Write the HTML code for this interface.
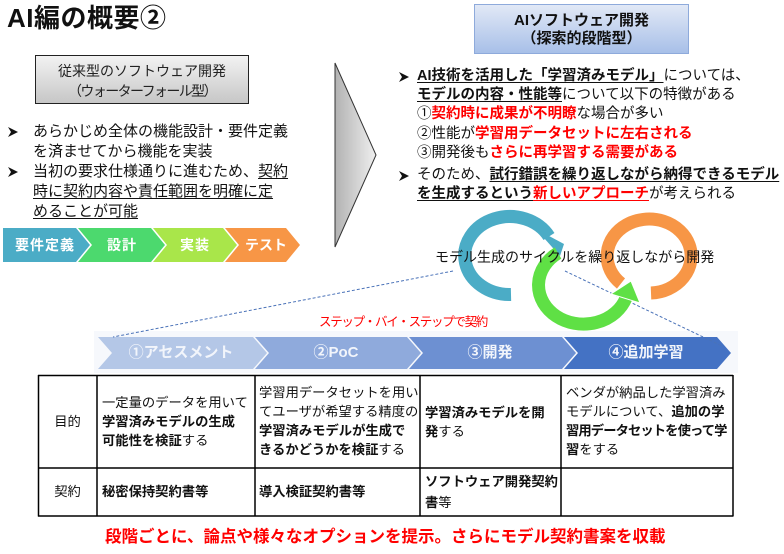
<!DOCTYPE html>
<html><head><meta charset="utf-8">
<style>
html,body{margin:0;padding:0;background:#fff;}
body{width:784px;height:554px;position:relative;overflow:hidden;font-family:"Liberation Sans","Noto Sans CJK JP",sans-serif;color:#111;}
.a{position:absolute;white-space:nowrap;}
.b{font-weight:bold;}
.u{text-decoration:underline;text-underline-offset:2px;text-decoration-thickness:1px;}
.r{color:#ff0000;}
.lt{font-size:15px;line-height:20px;}
.rt{font-size:14.5px;line-height:19.5px;}
.tt{font-size:13.3px;line-height:19px;}
</style></head><body>

<svg class="a" style="left:0;top:0" width="784" height="554" viewBox="0 0 784 554">
<defs>
<linearGradient id="gbox" x1="0" y1="0" x2="0" y2="1"><stop offset="0" stop-color="#f3f3f3"/><stop offset="1" stop-color="#c6c6c6"/></linearGradient>
<linearGradient id="bbox" x1="0" y1="0" x2="0" y2="1"><stop offset="0" stop-color="#e2e9f6"/><stop offset="1" stop-color="#a7bfe8"/></linearGradient>
<linearGradient id="garr" x1="0" y1="0" x2="1" y2="0"><stop offset="0" stop-color="#b2b2b2"/><stop offset="1" stop-color="#efefef"/></linearGradient>
</defs>
<!-- left box -->
<rect x="35.5" y="55.5" width="213" height="48" fill="url(#gbox)" stroke="#222" stroke-width="1"/>
<!-- right box -->
<rect x="474.5" y="4.5" width="214" height="49" fill="url(#bbox)" stroke="#8eaadb" stroke-width="1"/>
<!-- big gray arrow -->
<polygon points="335,63 376,155 335,247" fill="url(#garr)" stroke="#333" stroke-width="1"/>
<!-- waterfall chevrons -->
<polygon points="3,228 76,228 90,245 76,262 3,262" fill="#4bacc6"/>
<polygon points="78,228 151,228 165,245 151,262 78,262 92,245" fill="#4cd96e"/>
<polygon points="153,228 223,228 237,245 223,262 153,262 167,245" fill="#a9e64a"/>
<polygon points="225,228 286,228 300,245 286,262 225,262 239,245" fill="#f79646"/>
<!-- band background -->
<rect x="94" y="331" width="644" height="42" fill="#f6f8fc"/>
<!-- phase chevrons -->
<polygon points="98,337 253,337 267,353 253,369 98,369 112,353" fill="#b4c7e7"/>
<polygon points="255,337 407,337 421,353 407,369 255,369 269,353" fill="#8faadc"/>
<polygon points="409,337 562,337 576,353 562,369 409,369 423,353" fill="#6d90d2"/>
<polygon points="564,337 717,337 731,353 717,369 564,369 578,353" fill="#4472c4"/>
<!-- dashed lines -->
<line x1="453" y1="271" x2="113" y2="337" stroke="#4a72b8" stroke-width="1" stroke-dasharray="3,2"/>
<line x1="565" y1="271" x2="722" y2="346" stroke="#4a72b8" stroke-width="1" stroke-dasharray="3,2"/>
<!-- orange ring -->
<path d="M 651 293 A 42 37 0 1 0 621 283.5" fill="none" stroke="#f79646" stroke-width="13"/>
<!-- blue ring -->
<path d="M 511 294.5 A 45 39 0 1 1 549 236.5" fill="none" stroke="#4bacc6" stroke-width="13"/>
<polygon points="536,229 564,244 560,256" fill="#4bacc6"/>
<!-- green ring -->
<path d="M 558 253 A 45 39 0 1 0 626 298" fill="none" stroke="#5fe045" stroke-width="13"/>
<polygon points="611,294 640,303 631,281" fill="#5fe045" stroke="#fff" stroke-width="1"/>
<!-- table -->
<g stroke="#000" stroke-width="1.5">
<line x1="38" y1="375.5" x2="733" y2="375.5"/>
<line x1="38" y1="468" x2="733" y2="468"/>
<line x1="38" y1="516" x2="733" y2="516"/>
<line x1="38.5" y1="375" x2="38.5" y2="516.5"/>
<line x1="97" y1="375" x2="97" y2="516.5"/>
<line x1="255" y1="375" x2="255" y2="516.5"/>
<line x1="420" y1="375" x2="420" y2="516.5"/>
<line x1="561" y1="375" x2="561" y2="516.5"/>
<line x1="733" y1="375" x2="733" y2="516.5"/>
</g>
<!-- bullets -->
<g fill="#111">
<polygon points="8,127 18,132 8,137 11,132"/>
<polygon points="8,167 18,172 8,177 11,172"/>
<polygon points="399,72 409,77 399,82 402,77"/>
<polygon points="399,171 409,176 399,181 402,176"/>
</g>
</svg>

<!-- title -->
<div class="a b" style="left:7px;top:3px;font-size:26px;line-height:30px;letter-spacing:0.5px;">AI編の概要②</div>

<!-- left box text -->
<div class="a" style="left:35px;top:61px;width:214px;text-align:center;font-size:14px;line-height:20px;color:#222;">従来型のソフトウェア開発</div>
<div class="a" style="left:35px;top:81px;width:214px;text-align:center;font-size:14px;line-height:20px;color:#222;letter-spacing:-1.6px;">（ウォーターフォール型）</div>

<!-- left bullets -->
<div class="a lt" style="left:33px;top:122px;">あらかじめ全体の機能設計・要件定義</div>
<div class="a lt" style="left:33px;top:142px;">を済ませてから機能を実装</div>
<div class="a lt" style="left:33px;top:162px;">当初の要求仕様通りに進むため、<span class="u">契約</span></div>
<div class="a lt u" style="left:33px;top:182px;">時に契約内容や責任範囲を明確に定</div>
<div class="a lt u" style="left:33px;top:202px;">めることが可能</div>

<!-- waterfall labels -->
<div class="a b" style="left:3px;top:235px;width:84px;text-align:center;font-size:14px;line-height:20px;color:#fff;letter-spacing:1px;">要件定義</div>
<div class="a b" style="left:92px;top:235px;width:60px;text-align:center;font-size:14px;line-height:20px;color:#fff;letter-spacing:1px;">設計</div>
<div class="a b" style="left:165px;top:235px;width:60px;text-align:center;font-size:14px;line-height:20px;color:#fff;letter-spacing:1px;">実装</div>
<div class="a b" style="left:237px;top:235px;width:58px;text-align:center;font-size:14px;line-height:20px;color:#fff;">テスト</div>

<!-- right box text -->
<div class="a b" style="left:474px;top:11px;width:215px;text-align:center;font-size:15px;line-height:20px;">AIソフトウェア開発</div>
<div class="a b" style="left:474px;top:29px;width:215px;text-align:center;font-size:15px;line-height:20px;">（探索的段階型）</div>

<!-- right bullets -->
<div class="a rt" style="left:417px;top:67px;"><span class="b u">AI技術を活用した「学習済みモデル」</span>については、</div>
<div class="a rt" style="left:417px;top:86px;"><span class="b u">モデルの内容・性能等</span>について以下の特徴がある</div>
<div class="a rt" style="left:417px;top:105px;">①<span class="b r">契約時に成果が不明瞭</span>な場合が多い</div>
<div class="a rt" style="left:417px;top:125px;">②性能が<span class="b r">学習用データセットに左右される</span></div>
<div class="a rt" style="left:417px;top:144px;">③開発後も<span class="b r">さらに再学習する需要がある</span></div>
<div class="a rt" style="left:417px;top:166px;">そのため、<span class="b u">試行錯誤を繰り返しながら納得できるモデル</span></div>
<div class="a rt" style="left:417px;top:185px;"><span class="b u">を生成するという</span><span class="b u r">新しいアプローチ</span>が考えられる</div>

<!-- cycle label -->
<div class="a" style="left:435px;top:247px;font-size:14px;line-height:20px;">モデル生成のサイクルを繰り返しながら開発</div>

<!-- step by step -->
<div class="a r" style="left:319px;top:313px;font-size:12.5px;line-height:18px;letter-spacing:-1.3px;">ステップ・バイ・ステップで契約</div>

<!-- phase labels -->
<div class="a b" style="left:121px;top:343px;width:120px;text-align:center;font-size:15px;line-height:20px;color:#f2f5fb;">①アセスメント</div>
<div class="a b" style="left:286px;top:343px;width:100px;text-align:center;font-size:15px;line-height:20px;color:#f2f5fb;">②PoC</div>
<div class="a b" style="left:440px;top:343px;width:100px;text-align:center;font-size:15px;line-height:20px;color:#f2f5fb;">③開発</div>
<div class="a b" style="left:586px;top:343px;width:120px;text-align:center;font-size:15px;line-height:20px;color:#f2f5fb;">④追加学習</div>

<!-- table text -->
<div class="a tt" style="left:38px;top:412px;width:59px;text-align:center;">目的</div>
<div class="a tt" style="left:38px;top:482px;width:59px;text-align:center;">契約</div>

<div class="a tt" style="left:102px;top:393px;">一定量のデータを用いて<br><span class="b">学習済みモデルの生成</span><br><span class="b">可能性を検証</span>する</div>
<div class="a tt" style="left:259px;top:383px;">学習用データセットを用い<br>てユーザが希望する精度の<br><span class="b">学習済みモデルが生成で</span><br><span class="b">きるかどうかを検証</span>する</div>
<div class="a tt" style="left:425px;top:403px;"><span class="b">学習済みモデルを開</span><br><span class="b">発</span>する</div>
<div class="a tt" style="left:566px;top:383px;">ベンダが納品した学習済み<br>モデルについて、<span class="b">追加の学</span><br><span class="b" style="letter-spacing:-0.9px;">習用データセットを使って学</span><br><span class="b">習</span>をする</div>

<div class="a tt b" style="left:102px;top:482px;">秘密保持契約書等</div>
<div class="a tt b" style="left:259px;top:482px;">導入検証契約書等</div>
<div class="a tt" style="left:425px;top:472px;line-height:20.5px;"><span class="b">ソフトウェア開発契約</span><br><span class="b">書</span>等</div>

<!-- bottom red -->
<div class="a b r" style="left:105px;top:526px;font-size:16.5px;line-height:22px;">段階ごとに、論点や様々なオプションを提示。さらにモデル契約書案を収載</div>

</body></html>
